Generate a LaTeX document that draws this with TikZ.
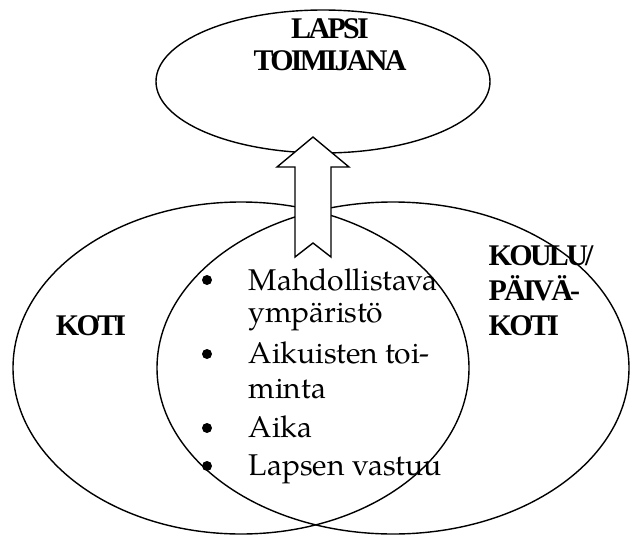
\documentclass[tikz,border=0pt]{standalone}
\usepackage{fontspec}
\usetikzlibrary{shapes.geometric}
\newfontfamily\lblfont{Liberation Serif}[LetterSpace=-9]
\newfontfamily\txtfont{TeX Gyre Pagella}
\begin{document}
\begin{tikzpicture}[x=1pt,y=-1pt,line width=1.4pt,
  ell/.style={draw, ellipse, inner sep=0pt, outer sep=0pt},
  lbl/.style={font=\lblfont\bfseries\fontsize{30}{35}\selectfont, inner sep=0pt},
  itm/.style={font=\txtfont\fontsize{30}{35}\selectfont, inner sep=0pt, anchor=base west},
  dot/.style={circle, fill, inner sep=0pt, minimum size=10pt}]
\useasboundingbox (0,0) rectangle (630,536);
% big circles
\node[ell, minimum width=456pt, minimum height=332pt] (koti) at (241,368) {};
\node[ell, minimum width=472pt, minimum height=332pt] (koulu) at (393,368) {};
% top ellipse
\node[ell, minimum width=334pt, minimum height=143pt] (lapsi) at (323,81.5) {};
% arrow
\coordinate (tip) at (313,137);
\draw[fill=white, line join=miter]
  (tip) -- ++(36,30) -- ++(-18,0) -- ++(0,90) -- ++(-18,-14) -- ++(-18,14)
  -- ++(0,-90) -- ++(-18,0) -- cycle;
% labels
\node[lbl, anchor=base, align=center, font=\lblfont\bfseries\fontsize{30}{32}\selectfont] (lapsit) at (330,70) {LAPSI\\TOIMIJANA};
\node[lbl, anchor=base] (kotit) at (91,335) {KOTI};
\node[lbl, anchor=base west, align=left] (koulut) at (488,335) {KOULU/\\PÄIVÄ-\\KOTI};
% bullet list
\node[dot] (b1) at (207,280) {};
\node[dot] (b2) at (207,354) {};
\node[dot] (b3) at (207,428) {};
\node[dot] (b4) at (207,466) {};
\node[itm] (i1a) at (248,290) {Mahdollistava};
\node[itm] (i1b) at (248,322) {ympäristö};
\node[itm] (i2a) at (248,363) {Aikuisten toi-};
\node[itm] (i2b) at (248,398) {minta};
\node[itm] (i3) at (248,437) {Aika};
\node[itm] (i4) at (248,475) {Lapsen vastuu};
\end{tikzpicture}
\end{document}
